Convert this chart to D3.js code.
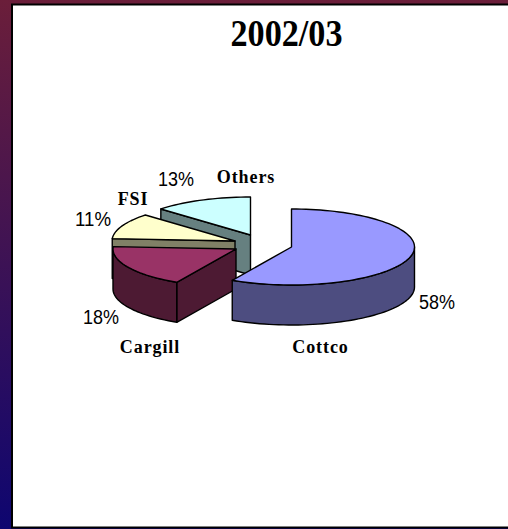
<!DOCTYPE html>
<html>
<head>
<meta charset="utf-8">
<style>
html,body{margin:0;padding:0;background:#fff;overflow:hidden}
svg{display:block}
</style>
<script src="https://cdn.jsdelivr.net/npm/d3@7/dist/d3.min.js"></script>
</head>
<body>
<svg id="chart" width="508" height="529"></svg>
<script>
// Market shares for the 2002/03 season
const title = "2002/03";
const categories = ["Cottco", "Cargill", "FSI", "Others"];
const shares = [58, 18, 11, 13];
const topColors = ["#9999ff", "#993366", "#ffffcc", "#ccffff"];
const wallColors = ["#4d4d80", "#4d1a33", "#808066", "#668080"];

const W = 508, H = 529;
const svg = d3.select("#chart");

// Slide backdrop
const defs = svg.append("defs");
const grad = defs.append("linearGradient").attr("id", "backdrop")
  .attr("x1", 0).attr("y1", 0).attr("x2", 0).attr("y2", 1);
grad.append("stop").attr("offset", "0%").attr("stop-color", "#6b1e3a");
grad.append("stop").attr("offset", "100%").attr("stop-color", "#0e0670");
svg.append("rect").attr("width", W).attr("height", H).attr("fill", "url(#backdrop)");
svg.append("rect").attr("x", 12).attr("y", 4.5).attr("width", W - 12 + 4).attr("height", H - 6)
  .attr("fill", "#fff").attr("stroke", "#000").attr("stroke-width", 2);

svg.append("text").attr("x", 286.5).attr("y", 46).attr("text-anchor", "middle")
  .attr("font-family", "'Liberation Serif', serif").attr("font-weight", "bold")
  .attr("font-size", 37).attr("textLength", 112).attr("lengthAdjust", "spacingAndGlyphs")
  .text(title);

// Projection of the tilted pie
const rx = 123, ry = 38, depth = 40;
const sliceCenters = [[291.5, 247], [236, 249], [235, 241], [250.5, 235]];

const arcs = d3.pie().sort(null).value(d => d)(shares);
const sx = a => rx * Math.sin(a);
const sy = a => -ry * Math.cos(a);

function rim(path, cx, cy, a0, a1, move) {
  const n = Math.max(2, Math.ceil(Math.abs(a1 - a0) / 0.04));
  d3.range(n + 1).forEach(i => {
    const a = a0 + (a1 - a0) * i / n;
    const x = cx + sx(a), y = cy + sy(a);
    if (i === 0 && move) path.moveTo(x, y); else path.lineTo(x, y);
  });
}

const stroke = (sel) => sel.attr("stroke", "#000").attr("stroke-width", 1.4).attr("stroke-linejoin", "round");

// Slices are painted back to front so nearer ones overlap
[3, 2, 1, 0].forEach(i => {
  const { startAngle: a0, endAngle: a1 } = arcs[i];
  const [cx, cy] = sliceCenters[i];
  const g = svg.append("g");
  const wall = wallColors[i];

  // Radial cut walls that turn towards the viewer
  [a0, a1].forEach((a, k) => {
    const facing = k === 0 ? Math.sin(a) < -1e-6 : Math.sin(a) > 1e-6;
    if (!facing) return;
    const p = d3.path();
    p.moveTo(cx, cy);
    p.lineTo(cx + sx(a), cy + sy(a));
    p.lineTo(cx + sx(a), cy + sy(a) + depth);
    p.lineTo(cx, cy + depth);
    p.closePath();
    g.append("path").attr("d", p.toString()).attr("fill", wall).call(stroke);
  });

  // Outer wall along the front half of the rim
  const lo = Math.max(a0, Math.PI / 2), hi = Math.min(a1, 3 * Math.PI / 2);
  if (hi > lo) {
    const p = d3.path();
    rim(p, cx, cy, lo, hi, true);
    rim(p, cx, cy + depth, hi, lo, false);
    p.closePath();
    g.append("path").attr("d", p.toString()).attr("fill", wall).call(stroke);
  }

  // Top face
  const t = d3.path();
  t.moveTo(cx, cy);
  rim(t, cx, cy, a0, a1, false);
  t.closePath();
  g.append("path").attr("d", t.toString()).attr("fill", topColors[i]).call(stroke);
});

// Share labels
const pctPos = [[437, 309], [101, 324], [93, 226], [176, 186]];
shares.forEach((v, i) => {
  svg.append("text").attr("x", pctPos[i][0]).attr("y", pctPos[i][1]).attr("text-anchor", "middle")
    .attr("font-family", "'Liberation Sans', sans-serif").attr("font-size", 20)
    .attr("textLength", 36).attr("lengthAdjust", "spacingAndGlyphs").text(v + "%");
});

// Category labels
const namePos = [[320.5, 353], [150, 353], [133, 205], [246, 183]];
categories.forEach((c, i) => {
  svg.append("text").attr("x", namePos[i][0]).attr("y", namePos[i][1]).attr("text-anchor", "middle")
    .attr("font-family", "'Liberation Serif', serif").attr("font-weight", "bold")
    .attr("font-size", 18).attr("letter-spacing", 0.9).text(c);
});
</script>
</body>
</html>
